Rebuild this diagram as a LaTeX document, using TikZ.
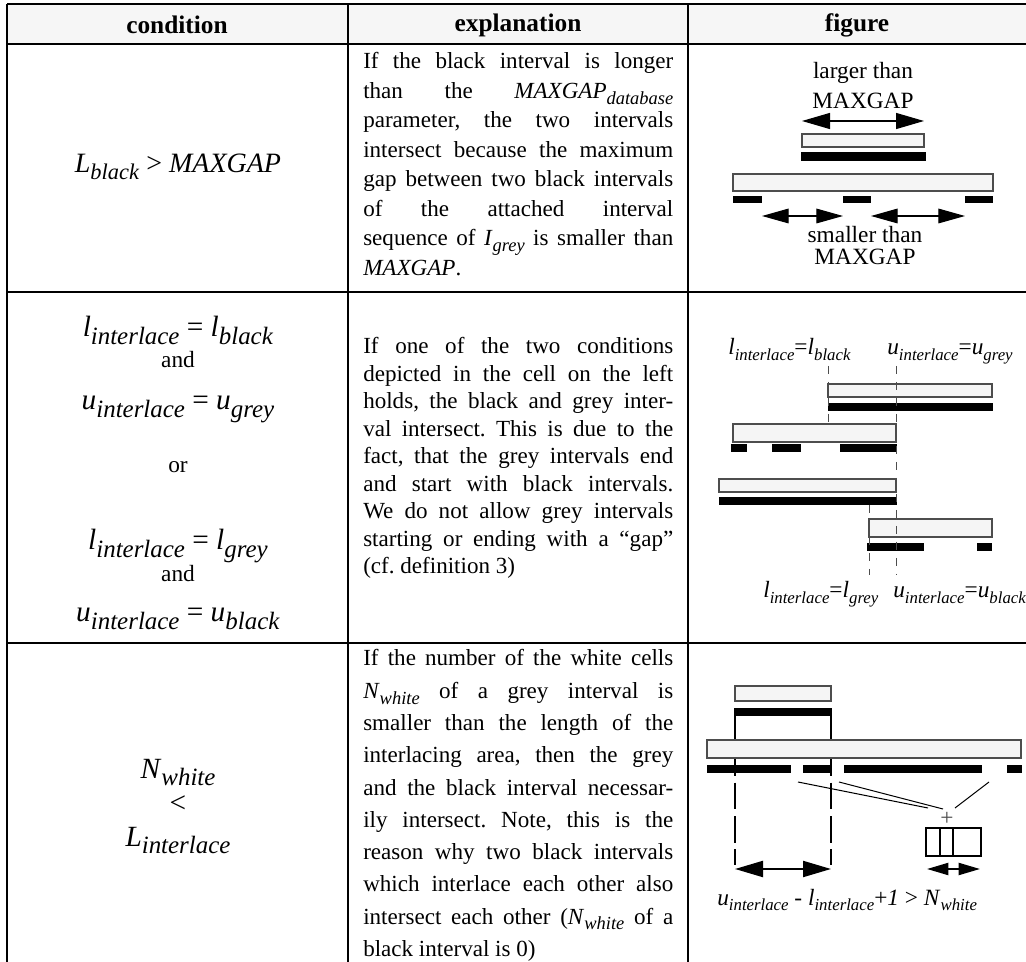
\documentclass[tikz,border=0pt]{standalone}
\usepackage{fontspec}
\setmainfont{Liberation Serif}
\usepackage{graphicx}
\usetikzlibrary{arrows.meta}
\definecolor{BoxGrey}{HTML}{F5F5F5}
\definecolor{EdgeGrey}{HTML}{4D4D4D}
\definecolor{HeadGrey}{HTML}{F6F6F6}
\frenchspacing
\newcommand\subsc{.8}
\newcommand\iv[2]{\textit{#1}\raisebox{-.25em}{\scalebox{\subsc}{\textit{#2}}}}
\newlength\explw \setlength\explw{232.5pt}
\newcommand\jl[1]{{\spaceskip=0pt\xspaceskip=0pt\makebox[\explw][s]{#1}}\\}
\tikzset{
  rule/.style={line width=2pt},
  gbox/.style={draw=EdgeGrey,fill=BoxGrey,line width=0.8pt},
  bbar/.style={fill=black},
  dbl/.style={{Triangle[length=21pt,width=12pt]}-{Triangle[length=21pt,width=12pt]},line width=0.9pt},
  dblthick/.style={dbl,line width=1.6pt},
  guide/.style={draw=EdgeGrey,line width=0.6pt,dash pattern=on 6pt off 6pt},
  lbl/.style={font={\fontsize{17.5}{20}\selectfont\def\subsc{.72}},inner sep=0pt},
  hd/.style={font=\fontsize{19}{22}\selectfont\bfseries,inner sep=0pt},
  cond/.style={font={\fontsize{22}{26}\selectfont\def\subsc{.85}},inner sep=0pt,anchor=base},
  expl/.style={text width=\explw,align=justify,inner sep=0pt,anchor=base west}
}
\begin{document}
\begin{tikzpicture}[x=0.75pt,y=-0.75pt]
  \useasboundingbox (0,0) rectangle (1026,962);
  % table
  \fill[HeadGrey] (7,4) rectangle (1026,44);
  \foreach \y in {4,44,292,643} {\draw[rule] (7,\y) -- (1026,\y);}
  \foreach \x in {7,348,688} {\draw[rule] (\x,4) -- (\x,962);}
  \node[hd] (hcond) at (177,25) {condition};
  \node[hd] (hexpl) at (518,25) {explanation};
  \node[hd] (hfig) at (857,25) {figure};

  % row 1
  \node[cond,font={\fontsize{21}{25}\selectfont\def\subsc{.8}}] (c1) at (178,173) {\iv{L}{black} > \textit{MAXGAP}};
  \node[expl,font=\fontsize{17.3}{22.1}\selectfont] (ex1) at (363,69) {%
    \jl{If the black interval is longer}
    \jl{than the \iv{MAXGAP}{database}}
    \jl{parameter, the two intervals}
    \jl{intersect because the maximum}
    \jl{gap between two black intervals}
    \jl{of the attached interval}
    \jl{sequence of \iv{I}{grey} is smaller than}
    \textit{MAXGAP}.};
  \node[lbl,anchor=base] (larger) at (863,79) {larger than};
  \node[lbl,anchor=base] (largerm) at (863,109) {MAXGAP};
  \coordinate (lgl) at (802,121);
  \coordinate (lgr) at (924,121);
  \draw[dbl] (lgl) -- (lgr);
  \draw[gbox] (802,134) rectangle (924,147);
  \fill[bbar] (801,152) rectangle (926,161);
  \draw[gbox] (733,174) rectangle (993,191);
  \foreach \a/\b in {733/762,843/871,965/993} {\fill[bbar] (\a,196) rectangle (\b,203);}
  \coordinate (sm1l) at (762,216);
  \coordinate (sm1r) at (843,216);
  \coordinate (sm2l) at (871,216);
  \coordinate (sm2r) at (965,216);
  \draw[dbl,{Triangle[length=20pt,width=11pt]}-{Triangle[length=20pt,width=11pt]}] (sm1l) -- (sm1r);
  \draw[dbl,{Triangle[length=20pt,width=11pt]}-{Triangle[length=20pt,width=11pt]}] (sm2l) -- (sm2r);
  \node[lbl,anchor=base] (smaller) at (865,243) {smaller than};
  \node[lbl,anchor=base] (smallerm) at (865,265) {MAXGAP};

  % row 2
  \node[cond] (c2a) at (178,337) {\iv{l}{interlace} = \iv{l}{black}};
  \node[lbl,anchor=base] (and1) at (178,368) {and};
  \node[cond] (c2b) at (178,410) {\iv{u}{interlace} = \iv{u}{grey}};
  \node[lbl,anchor=base] (or) at (178,473) {or};
  \node[cond] (c2c) at (178,550) {\iv{l}{interlace} = \iv{l}{grey}};
  \node[lbl,anchor=base] (and2) at (178,582) {and};
  \node[cond] (c2d) at (178,622) {\iv{u}{interlace} = \iv{u}{black}};
  \node[expl,font=\fontsize{17.3}{20.6}\selectfont] (ex2) at (363,354) {%
    \jl{If one of the two conditions}
    \jl{depicted in the cell on the left}
    \jl{holds, the black and grey inter-}
    \jl{val intersect. This is due to the}
    \jl{fact, that the grey intervals end}
    \jl{and start with black intervals.}
    \jl{We do not allow grey intervals}
    \jl{starting or ending with a “gap”}
    (cf. definition 3)};
  \node[lbl,anchor=base west] (lblack) at (728,355) {\iv{l}{interlace}=\iv{l}{black}};
  \node[lbl,anchor=base west] (ugrey) at (887,355) {\iv{u}{interlace}=\iv{u}{grey}};
  \draw[gbox] (828,384) rectangle (992,397);
  \fill[bbar] (828,403) rectangle (993,411);
  \draw[gbox] (733,424) rectangle (896,442);
  \foreach \a/\b in {731/747,772/801,840/897} {\fill[bbar] (\a,444) rectangle (\b,452);}
  \draw[gbox] (719,479) rectangle (896,492);
  \fill[bbar] (719,497) rectangle (897,505);
  \draw[gbox] (869,519) rectangle (992,537);
  \foreach \a/\b in {867/924,977/992} {\fill[bbar] (\a,543) rectangle (\b,551);}
  \draw[guide] (828,366) -- (828,424);
  \draw[guide] (896,366) -- (896,575);
  \draw[guide] (869,505) -- (869,575);
  \node[lbl,anchor=base west] (lgrey) at (763,598) {\iv{l}{interlace}=\iv{l}{grey}};
  \node[lbl,anchor=base west] (ublack) at (893,598) {\iv{u}{interlace}=\iv{u}{black}};

  % row 3
  \node[cond] (c3a) at (178,778) {\iv{N}{white}};
  \node[cond] (c3b) at (178,812) {<};
  \node[cond] (c3c) at (178,846) {\iv{L}{interlace}};
  \node[expl,font=\fontsize{17.3}{24.2}\selectfont] (ex3) at (363,666) {%
    \jl{If the number of the white cells}
    \jl{\iv{N}{white} of a grey interval is}
    \jl{smaller than the length of the}
    \jl{interlacing area, then the grey}
    \jl{and the black interval necessar-}
    \jl{ily intersect. Note, this is the}
    \jl{reason why two black intervals}
    \jl{which interlace each other also}
    \jl{intersect each other (\iv{N}{white} of a}
    black interval is 0)};
  \draw[line width=1.6pt,dash pattern=on 20pt off 5pt] (735,716) -- (735,865);
  \draw[line width=1.6pt,dash pattern=on 20pt off 5pt] (831,716) -- (831,865);
  \draw[gbox] (735,686) rectangle (831,701);
  \fill[bbar] (734,708) rectangle (832,716);
  \draw[gbox] (707,740) rectangle (1021,758);
  \foreach \a/\b in {707/791,803/832,844/982,1007/1022} {\fill[bbar] (\a,765) rectangle (\b,773);}
  \node[lbl,text=EdgeGrey] (plus) at (947,819) {+};
  \coordinate (gap1) at (798,782);
  \coordinate (gap2) at (839,782);
  \coordinate (gap3) at (989,782);
  \coordinate (in1) at (928,808);
  \coordinate (in2) at (943,809);
  \coordinate (in3) at (955,808);
  \foreach \i in {1,2,3} {\draw[line width=0.75pt] (gap\i) -- (in\i);}
  \draw[line width=1.4pt] (926,828) rectangle (981,856);
  \draw[line width=1.4pt] (940,828) -- (940,856) (953,828) -- (953,856);
  \coordinate (wl) at (927,869);
  \coordinate (wr) at (980,869);
  \draw[dblthick,{Triangle[length=16pt,width=9pt]}-{Triangle[length=16pt,width=9pt]}] (wl) -- (wr);
  \coordinate (il) at (735,869);
  \coordinate (ir) at (831,869);
  \draw[dblthick] (il) -- (ir);
  \node[lbl,anchor=base west] (ineq) at (717,905) {\iv{u}{interlace} - \iv{l}{interlace}+\textit{1} > \iv{N}{white}};
\end{tikzpicture}
\end{document}
